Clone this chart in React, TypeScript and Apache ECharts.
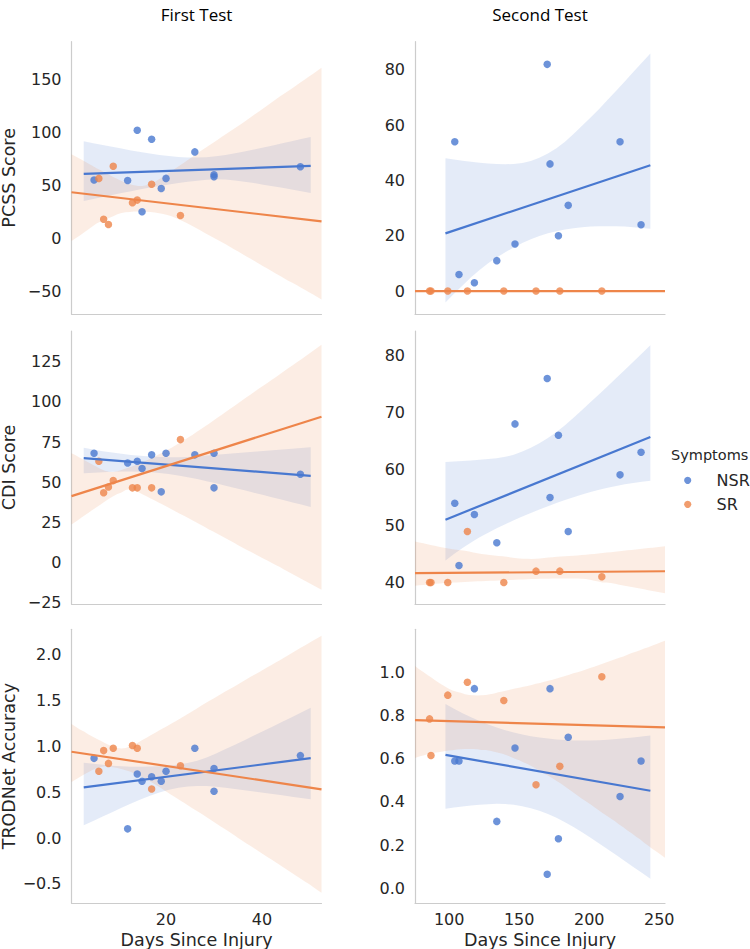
import React, { useEffect, useRef } from "react";
import * as echarts from "echarts";

// ---- data ----
const firstDaysNSR = [5, 12, 14, 15, 17, 19, 20, 26, 30, 30, 48];
const firstDaysSR = [6, 7, 8, 9, 13, 14, 17, 23];
const secondDaysNSR = [104, 107, 118, 134, 147, 170, 172, 178, 185, 222, 237];
const secondDaysSR = [86, 87, 99, 113, 139, 162, 179, 209];

const pcssFirstNSR = [55, 54.5, 102, 25, 93.5, 47, 56.5, 81.5, 60, 58, 67.5];
const pcssFirstSR = [56.5, 18, 13, 68, 33.5, 36, 51, 21.5];
const pcssSecondNSR = [54, 6, 3, 11, 17, 82, 46, 20, 31, 54, 24];
const pcssSecondSR = [0, 0, 0, 0, 0, 0, 0, 0];

const cdiFirstNSR = [68, 62, 63, 58.5, 67, 44, 68, 67, 68, 46.5, 55];
const cdiFirstSR = [63, 43.5, 47, 51, 46.5, 46.5, 46.5, 76.5];
const cdiSecondNSR = [54, 43, 52, 47, 68, 76, 55, 66, 49, 59, 63];
const cdiSecondSR = [40, 40, 40, 49, 40, 42, 42, 41];

const accFirstNSR = [0.87, 0.1, 0.7, 0.62, 0.67, 0.62, 0.73, 0.98, 0.76, 0.51, 0.9];
const accFirstSR = [0.73, 0.955, 0.815, 0.98, 1.01, 0.98, 0.535, 0.79];
const accSecondNSR = [0.59, 0.59, 0.925, 0.31, 0.65, 0.065, 0.925, 0.23, 0.7, 0.425, 0.59];
const accSecondSR = [0.785, 0.615, 0.895, 0.955, 0.87, 0.48, 0.565, 0.98];

const columnTitles = ["First Test", "Second Test"];
const rowLabels = ["PCSS Score", "CDI Score", "TRODNet Accuracy"];
const xLabel = "Days Since Injury";
const hueTitle = "Symptoms";
const hueNames = ["NSR", "SR"];

const xTicksLeft = [20, 40];
const xTicksRight = [100, 150, 200, 250];
const yTicks = [
  [[-50, 0, 50, 100, 150], [0, 20, 40, 60, 80]],
  [[-25, 0, 25, 50, 75, 100, 125], [40, 50, 60, 70, 80]],
  [[-0.5, 0, 0.5, 1, 1.5, 2], [0, 0.2, 0.4, 0.6, 0.8, 1.0]],
];

// ---- layout / axis domains ----
const BLUE = "#4878d0";
const ORANGE = "#ee854a";
const TEXT = "#262626";
const SPINE = "#cccccc";
const FONT = "DejaVu Sans";

const colLeft = [71.5, 415];
const colWidth = 250;
const rowTop = [41.7, 331, 629.3];
const rowHeight = [272.3, 273, 273.7];

const xDomain = [
  [0.3, 52.4],
  [75.6, 254.1],
];
const blueSpan = [
  [2.85, 50.15],
  [97.35, 243.65],
];
const yDomain = [
  [[-71.5, 185.5], [-8.3, 90.2]],
  [[-25.7, 144], [36.2, 84.4]],
  [[-0.71, 2.28], [-0.068, 1.2]],
];
const yDecimals = [0, 0, 1];

const panelX = [
  [firstDaysNSR, firstDaysSR],
  [secondDaysNSR, secondDaysSR],
];
const panelY = [
  [[pcssFirstNSR, pcssFirstSR], [pcssSecondNSR, pcssSecondSR]],
  [[cdiFirstNSR, cdiFirstSR], [cdiSecondNSR, cdiSecondSR]],
  [[accFirstNSR, accFirstSR], [accSecondNSR, accSecondSR]],
];

// ordinary least squares fit
function fit(xs: number[], ys: number[]) {
  const n = xs.length;
  const mx = xs.reduce((a, b) => a + b, 0) / n;
  const my = ys.reduce((a, b) => a + b, 0) / n;
  let sxx = 0,
    sxy = 0;
  for (let i = 0; i < n; i++) {
    sxx += (xs[i] - mx) ** 2;
    sxy += (xs[i] - mx) * (ys[i] - my);
  }
  const slope = sxx > 0 ? sxy / sxx : 0;
  const icpt = my - slope * mx;
  return { slope, icpt };
}

// Exact (fully enumerated, deterministic) bootstrap distribution of the
// regression line, 95% percentile band, as seaborn's regplot estimates it.
function bootstrapBand(xs: number[], ys: number[], x0: number, x1: number, nGrid: number) {
  const n = xs.length;
  const fact: number[] = [1];
  for (let i = 1; i <= n; i++) fact.push(fact[i - 1] * i);
  const total = Math.pow(n, n);
  const A: number[] = [];
  const B: number[] = [];
  const W: number[] = [];
  const cnt = new Array(n).fill(0);
  const evaluate = () => {
    let sx = 0,
      sy = 0,
      sxx = 0,
      sxy = 0,
      den = 1;
    for (let j = 0; j < n; j++) {
      const c = cnt[j];
      if (c) {
        sx += c * xs[j];
        sy += c * ys[j];
        sxx += c * xs[j] * xs[j];
        sxy += c * xs[j] * ys[j];
        den *= fact[c];
      }
    }
    const d = n * sxx - sx * sx;
    let b = 0;
    let a = sy / n;
    if (Math.abs(d) > 1e-9) {
      b = (n * sxy - sx * sy) / d;
      a = (sy - b * sx) / n;
    }
    A.push(a);
    B.push(b);
    W.push(fact[n] / den / total);
  };
  const rec = (i: number, rem: number) => {
    if (i === n - 1) {
      cnt[i] = rem;
      evaluate();
      return;
    }
    for (let c = 0; c <= rem; c++) {
      cnt[i] = c;
      rec(i + 1, rem - c);
    }
  };
  rec(0, n);
  const m = A.length;
  const a = Float64Array.from(A);
  const b = Float64Array.from(B);
  const w = Float64Array.from(W);
  let wt = 0;
  for (let k = 0; k < m; k++) wt += w[k];
  const vals = new Float64Array(m);
  const NB = 4096;

  const locate = (hist: Float64Array, under: number, target: number) => {
    let cum = under;
    let k = 0;
    for (k = 0; k < NB; k++) {
      if (cum + hist[k] >= target) break;
      cum += hist[k];
    }
    return { k: Math.min(k, NB - 1), cum };
  };

  const pts: number[][] = [];
  for (let g = 0; g <= nGrid; g++) {
    const x = x0 + ((x1 - x0) * g) / nGrid;
    let mn = Infinity,
      mxv = -Infinity;
    for (let k = 0; k < m; k++) {
      const v = a[k] + b[k] * x;
      vals[k] = v;
      if (v < mn) mn = v;
      if (v > mxv) mxv = v;
    }
    const span = mxv - mn;
    if (span <= 1e-12) {
      pts.push([x, mn, mn]);
      continue;
    }
    const hist = new Float64Array(NB);
    for (let k = 0; k < m; k++) {
      let i = Math.floor(((vals[k] - mn) / span) * NB);
      if (i >= NB) i = NB - 1;
      hist[i] += w[k];
    }
    const res: number[] = [];
    for (const q of [0.025, 0.975]) {
      const target = q * wt;
      const first = locate(hist, 0, target);
      const lo = mn + (span * first.k) / NB;
      const hi = mn + (span * (first.k + 1)) / NB;
      const sub = new Float64Array(NB);
      const s2 = hi - lo;
      for (let k = 0; k < m; k++) {
        const v = vals[k];
        if (v < lo || v > hi) continue;
        let i = Math.floor(((v - lo) / s2) * NB);
        if (i >= NB) i = NB - 1;
        sub[i] += w[k];
      }
      const second = locate(sub, first.cum, target);
      res.push(lo + (s2 * (second.k + 0.5)) / NB);
    }
    pts.push([x, res[0], res[1]]);
  }
  return pts;
}

function fmt(dec: number) {
  return (v: number) => (dec ? v.toFixed(dec) : String(Math.round(v))).replace("-", "\u2212");
}

function buildOption() {
  const grid: any[] = [];
  const xAxis: any[] = [];
  const yAxis: any[] = [];
  const series: any[] = [];
  const graphic: any[] = [];
  let idx = 0;
  for (let r = 0; r < 3; r++) {
    for (let c = 0; c < 2; c++) {
      grid.push({
        left: colLeft[c],
        top: rowTop[r],
        width: colWidth,
        height: rowHeight[r],
        containLabel: false,
        outerBoundsMode: "none",
      });
      xAxis.push({
        type: "value",
        gridIndex: idx,
        min: xDomain[c][0],
        max: xDomain[c][1],
        axisLine: { show: true, onZero: false, lineStyle: { color: SPINE, width: 1.2 } },
        axisTick: { show: false },
        splitLine: { show: false },
        axisLabel: {
          show: r === 2,
          customValues: c === 0 ? xTicksLeft : xTicksRight,
          color: TEXT,
          fontFamily: FONT,
          fontSize: 16,
          margin: 8,
        },
      });
      yAxis.push({
        type: "value",
        gridIndex: idx,
        min: yDomain[r][c][0],
        max: yDomain[r][c][1],
        axisLine: { show: true, onZero: false, lineStyle: { color: SPINE, width: 1.2 } },
        axisTick: { show: false },
        splitLine: { show: false },
        axisLabel: {
          customValues: yTicks[r][c],
          formatter: fmt(yDecimals[r]),
          color: TEXT,
          fontFamily: FONT,
          fontSize: 16,
          margin: 10,
        },
      });

      const xsB = panelX[c][0];
      const xsO = panelX[c][1];
      const ysB = panelY[r][c][0];
      const ysO = panelY[r][c][1];
      const fB = fit(xsB, ysB);
      const fO = fit(xsO, ysO);
      const bB = bootstrapBand(xsB, ysB, blueSpan[c][0], blueSpan[c][1], 24);
      const bO = bootstrapBand(xsO, ysO, xDomain[c][0], xDomain[c][1], 60);

      const scatter = (name: string, xs: number[], ys: number[], color: string) => ({
        type: "scatter",
        name,
        xAxisIndex: idx,
        yAxisIndex: idx,
        symbolSize: 7.5,
        itemStyle: { color, opacity: 0.8 },
        data: xs.map((x, i) => [x, ys[i]]),
        silent: true,
      });
      const band = (name: string, pts: number[][], color: string) => ({
        type: "custom",
        name,
        xAxisIndex: idx,
        yAxisIndex: idx,
        clip: true,
        silent: true,
        dimensions: ["x", "lo", "hi"],
        encode: { x: 0, y: [1, 2] },
        data: pts,
        renderItem: (params: any, api: any) => {
          if (params.dataIndex !== 0) return null;
          const upper = pts.map((p) => api.coord([p[0], p[2]]));
          const lower = pts.map((p) => api.coord([p[0], p[1]])).reverse();
          return {
            type: "polygon",
            shape: { points: upper.concat(lower), smooth: 0 },
            style: { fill: color, opacity: 0.15 },
          };
        },
      });
      const line = (name: string, f: { slope: number; icpt: number }, x0: number, x1: number, color: string) => ({
        type: "line",
        name,
        xAxisIndex: idx,
        yAxisIndex: idx,
        showSymbol: false,
        symbol: "none",
        clip: true,
        silent: true,
        lineStyle: { color, width: 2.2 },
        data: [
          [x0, f.icpt + f.slope * x0],
          [x1, f.icpt + f.slope * x1],
        ],
      });

      series.push(scatter(hueNames[0], xsB, ysB, BLUE));
      series.push(band(hueNames[0], bB, BLUE));
      series.push(scatter(hueNames[1], xsO, ysO, ORANGE));
      series.push(band(hueNames[1], bO, ORANGE));
      series.push(line(hueNames[0], fB, blueSpan[c][0], blueSpan[c][1], BLUE));
      series.push(line(hueNames[1], fO, xDomain[c][0], xDomain[c][1], ORANGE));
      idx++;
    }
  }

  // column titles and x-axis names
  for (let c = 0; c < 2; c++) {
    graphic.push({
      type: "text",
      x: colLeft[c] + colWidth / 2,
      y: 14,
      style: {
        text: columnTitles[c],
        font: '17px "Open Sans"',
        fill: "#000",
        align: "center",
        verticalAlign: "middle",
      },
    });
    graphic.push({
      type: "text",
      x: colLeft[c] + colWidth / 2,
      y: 940,
      style: {
        text: xLabel,
        font: `17.5px "${FONT}"`,
        fill: TEXT,
        align: "center",
        verticalAlign: "middle",
      },
    });
  }
  // row labels
  for (let r = 0; r < 3; r++) {
    graphic.push({
      type: "text",
      x: 9,
      y: rowTop[r] + rowHeight[r] / 2,
      rotation: Math.PI / 2,
      style: {
        text: rowLabels[r],
        font: `17.5px "${FONT}"`,
        fill: TEXT,
        align: "center",
        verticalAlign: "middle",
      },
    });
  }
  // legend
  graphic.push({
    type: "text",
    x: 671,
    y: 455,
    style: {
      text: hueTitle,
      font: `14.5px "${FONT}"`,
      fill: TEXT,
      align: "left",
      verticalAlign: "middle",
    },
  });
  const legendColors = [BLUE, ORANGE];
  for (let i = 0; i < 2; i++) {
    graphic.push({
      type: "circle",
      shape: { cx: 687.7, cy: 480.3 + i * 24, r: 3.6 },
      style: { fill: legendColors[i], opacity: 0.8 },
    });
    graphic.push({
      type: "text",
      x: 716.5,
      y: 480.3 + i * 24,
      style: {
        text: hueNames[i],
        font: `16px "${FONT}"`,
        fill: TEXT,
        align: "left",
        verticalAlign: "middle",
      },
    });
  }

  return {
    animation: false,
    backgroundColor: "#ffffff",
    textStyle: { fontFamily: FONT },
    grid,
    xAxis,
    yAxis,
    series,
    graphic,
  };
}

export default function App() {
  const ref = useRef<HTMLDivElement>(null);
  useEffect(() => {
    if (!ref.current) return;
    const chart = echarts.init(ref.current, null, { renderer: "svg" });
    chart.setOption(buildOption() as any);
    return () => chart.dispose();
  }, []);
  return (
    <div
      ref={ref}
      style={{ position: "absolute", left: 0, top: 0, width: 750, height: 949 }}
    />
  );
}
